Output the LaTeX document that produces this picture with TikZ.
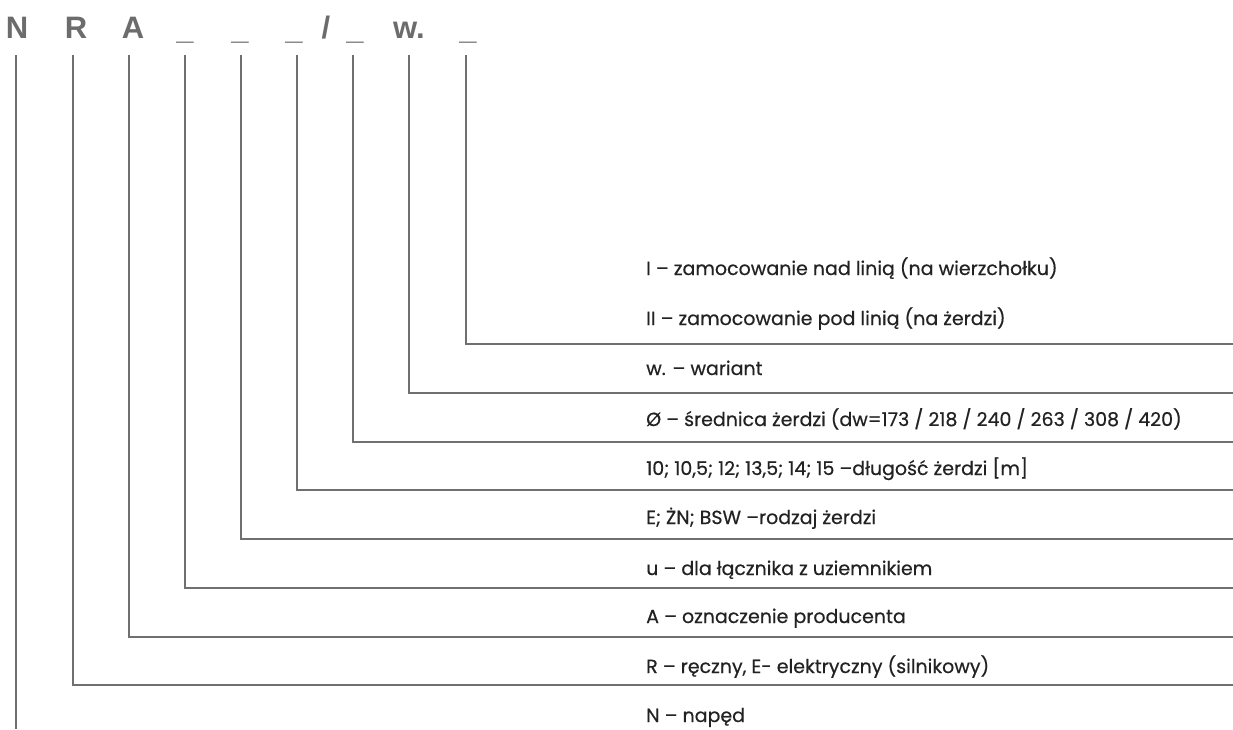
\documentclass[tikz,border=0pt]{standalone}
\usepackage{fontspec}
\setmainfont{Poppins}[FakeBold=0.5]
\newfontfamily\hdrfont{Liberation Sans}
\definecolor{linegray}{RGB}{112,112,112}
\definecolor{hdrgray}{RGB}{108,108,108}
\definecolor{txt}{RGB}{34,34,34}
\tikzset{
  hdr/.style={anchor=base, inner sep=0pt, text=hdrgray, font=\hdrfont\bfseries\fontsize{31}{31}\selectfont},
  lbl/.style={anchor=base west, inner sep=0pt, text=txt, font=\fontsize{19}{19}\selectfont},
  conn/.style={draw=linegray, line width=1.3pt}
}
\begin{document}
\begin{tikzpicture}[x=1pt,y=-1pt]
\useasboundingbox (0,0) rectangle (1233,729);
% header
\node[hdr] (hN) at (17,38) {N};
\node[hdr] (hR) at (76,38) {R};
\node[hdr] (hA) at (133,38) {A};
\node[hdr] (u1) at (185,39) {\_};
\node[hdr] (u2) at (240,39) {\_};
\node[hdr] (u3) at (294,39) {\_};
\node[hdr] (sl) at (326,38) {/};
\node[hdr] (u4) at (355,39) {\_};
\node[hdr] (hw) at (409,38) {w.};
\node[hdr] (u5) at (468,39) {\_};
% tops of connectors
\coordinate (tN) at (16,55);
\coordinate (tR) at (73,55);
\coordinate (tA) at (129,55);
\coordinate (t1) at (185,55);
\coordinate (t2) at (241,55);
\coordinate (t3) at (297,55);
\coordinate (t4) at (353,55);
\coordinate (tw) at (409,55);
\coordinate (t5) at (466,55);
% right ends
\coordinate (e5) at (1233,344);
\coordinate (ew) at (1233,393);
\coordinate (e4) at (1233,442);
\coordinate (e3) at (1233,490);
\coordinate (e2) at (1233,539);
\coordinate (e1) at (1233,588);
\coordinate (eA) at (1233,637);
\coordinate (eR) at (1233,685);
\coordinate (eN) at (16,729);
% labels
\node[lbl] (l5a) at (646,275) {I – zamocowanie nad linią (na wierzchołku)};
\node[lbl] (l5b) at (646,325) {II – zamocowanie pod linią (na żerdzi)};
\node[lbl] (lw) at (646,375) {w. – wariant};
\node[lbl] (l4) at (646,426) {Ø – średnica żerdzi (dw=173 / 218 / 240 / 263 / 308 / 420)};
\node[lbl] (l3) at (646,475) {10; 10,5; 12; 13,5; 14; 15 –długość żerdzi [m]};
\node[lbl] (l2) at (646,524) {E; ŻN; BSW –rodzaj żerdzi};
\node[lbl] (l1) at (646,575) {u – dla łącznika z uziemnikiem};
\node[lbl] (lA) at (646,623) {A – oznaczenie producenta};
\node[lbl] (lR) at (646,673) {R – ręczny, E- elektryczny (silnikowy)};
\node[lbl] (lN) at (646,722) {N – napęd};
% connectors
\draw[conn] (t5) |- (e5);
\draw[conn] (tw) |- (ew);
\draw[conn] (t4) |- (e4);
\draw[conn] (t3) |- (e3);
\draw[conn] (t2) |- (e2);
\draw[conn] (t1) |- (e1);
\draw[conn] (tA) |- (eA);
\draw[conn] (tR) |- (eR);
\draw[conn] (tN) -- (eN);
\end{tikzpicture}
\end{document}
